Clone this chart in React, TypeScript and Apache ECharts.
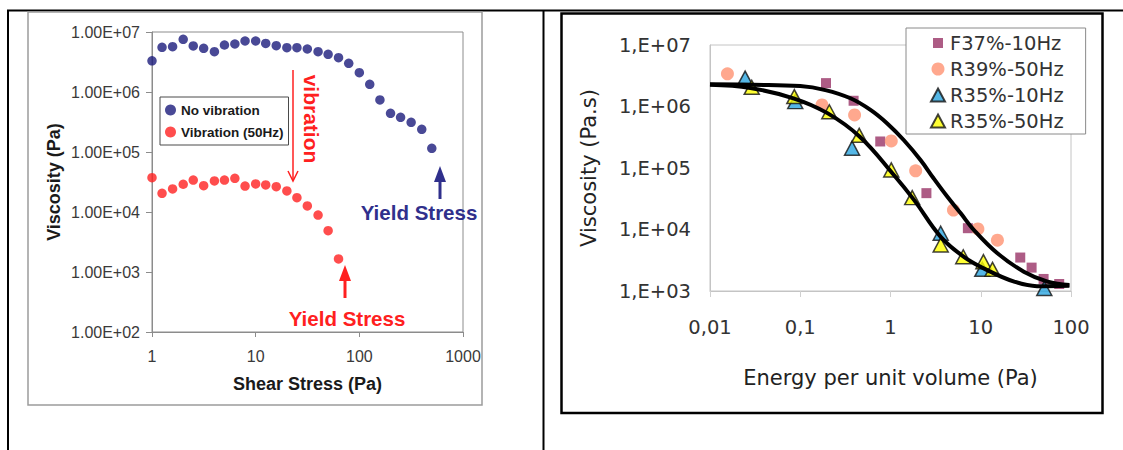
import React, { useEffect, useRef } from "react";
import * as echarts from "echarts";

// ---------- Left chart data ----------
const shearStress = [1, 1.25, 1.58, 2, 2.5, 3.15, 4, 5, 6.3, 7.9, 10, 12.5, 15.8, 20, 25, 31.5, 40, 50, 63, 79, 100, 126, 158, 200, 250, 316, 400, 500];
const viscNoVibration = [3.31e6, 5.56e6, 5.69e6, 7.55e6, 5.85e6, 5.35e6, 4.7e6, 6.07e6, 6.31e6, 7.08e6, 7.08e6, 6.46e6, 5.92e6, 5.47e6, 5.47e6, 5.21e6, 4.7e6, 4.25e6, 3.73e6, 3.01e6, 2.1e6, 1.34e6, 7.36e5, 4.42e5, 3.78e5, 3.13e5, 2.39e5, 1.15e5];
const shearStressVib = [1, 1.25, 1.58, 2, 2.5, 3.15, 4, 5, 6.3, 7.9, 10, 12.5, 15.8, 20, 25, 31.5, 40, 50, 63];
const viscVibration50 = [3.73e4, 2.05e4, 2.42e4, 2.9e4, 3.41e4, 2.74e4, 3.29e4, 3.41e4, 3.65e4, 2.71e4, 2.93e4, 2.82e4, 2.64e4, 2.24e4, 1.73e4, 1.26e4, 8.9e3, 4.88e3, 1.65e3];

// ---------- Right chart data ----------
const f37X = [0.193, 0.39, 0.77, 2.5, 7.2, 27.4, 36.6, 49.7, 74];
const f37Y = [2.4e6, 1.24e6, 2.7e5, 3.9e4, 1.05e4, 3.5e3, 2.4e3, 1.57e3, 1.3e3];
const r39X = [0.0156, 0.174, 0.4, 1.02, 1.9, 4.98, 9.3, 15.3];
const r39Y = [3.4e6, 1.06e6, 7.3e5, 2.75e5, 9e4, 2.07e4, 1.02e4, 6.7e3];
const r35a10X = [0.0245, 0.088, 0.375, 3.6, 10.4, 50.6];
const r35a10Y = [2.9e6, 1.2e6, 2.1e5, 8.7e3, 2.25e3, 1.1e3];
const r35a50X = [0.029, 0.086, 0.21, 0.45, 1.02, 1.74, 3.6, 6.4, 10.7, 13.5];
const r35a50Y = [2.05e6, 1.45e6, 8.2e5, 3.4e5, 9.3e4, 3.3e4, 5.6e3, 3.6e3, 3.0e3, 2.25e3];

const fitUpperX = [0.01, 0.03, 0.1, 0.19, 0.36, 0.6, 0.92, 1.4, 2.15, 3, 4.27, 6, 8.4, 15.3, 30, 55, 96];
const fitUpperY = [2.3e6, 2.25e6, 2.15e6, 1.85e6, 1.36e6, 8.8e5, 5.3e5, 2.85e5, 1.35e5, 6.8e4, 3.4e4, 1.83e4, 9.8e3, 4.1e3, 2.06e3, 1.42e3, 1.25e3];
const fitLowerX = [0.01, 0.028, 0.084, 0.2, 0.46, 1.09, 1.83, 3.6, 6.5, 11.7, 23.5, 42, 96];
const fitLowerY = [2.25e6, 2.0e6, 1.36e6, 7.8e5, 3.2e5, 7.7e4, 3.0e4, 7.6e3, 3.6e3, 2.2e3, 1.42e3, 1.2e3, 1.22e3];

const zip = (xs: number[], ys: number[]) => ys.map((y, i) => [xs[i], y]);

const ARIAL = '"Liberation Sans", Arial, sans-serif';
const DEJAVU = '"DejaVu Sans", Verdana, sans-serif';
const NAVY = "#1c1c7c";
const RED = "#ff2020";
const BLUE_TXT = "#30308c";

const expOf = (v: number) => Math.round(Math.log10(v));

export default function App() {
  const ref = useRef<HTMLDivElement>(null);

  useEffect(() => {
    if (!ref.current) return;
    const chart = echarts.init(ref.current, undefined, { renderer: "svg" });

    const textEl = (text: string, x: number, y: number, font: string, fill: string, rotation = 0) => ({
      type: "text",
      x,
      y,
      rotation,
      style: {
        text,
        font,
        fill,
        align: "center",
        verticalAlign: "middle",
        textAlign: "center",
        textVerticalAlign: "middle",
      },
    });

    const option: any = {
      animation: false,
      backgroundColor: "#ffffff",
      grid: [
        { left: 152, top: 32, width: 311, height: 300, show: true, borderColor: "#8c8c8c", borderWidth: 1, backgroundColor: "transparent" },
        { left: 710, top: 45, width: 361, height: 246, show: true, borderColor: "#c4c4c4", borderWidth: 1, backgroundColor: "transparent" },
      ],
      xAxis: [
        {
          gridIndex: 0,
          type: "log",
          logBase: 10,
          min: 1,
          max: 1000,
          axisLine: { lineStyle: { color: "#8c8c8c" } },
          axisTick: { show: true, inside: false, length: 5, lineStyle: { color: "#8c8c8c" } },
          minorTick: { show: false },
          splitLine: { show: false },
          axisLabel: {
            fontFamily: ARIAL,
            fontSize: 16,
            color: "#3a3a3a",
            margin: 16,
            formatter: (v: number) => String(Math.pow(10, expOf(v))),
          },
          name: "Shear Stress (Pa)",
          nameLocation: "middle",
          nameGap: 43,
          nameTextStyle: { fontFamily: ARIAL, fontWeight: "bold", fontSize: 18, color: "#1a1a1a" },
        },
        {
          gridIndex: 1,
          type: "log",
          logBase: 10,
          min: 0.01,
          max: 100,
          axisLine: { lineStyle: { color: "#c4c4c4" } },
          axisTick: { show: true, inside: false, length: 6, lineStyle: { color: "#d0d0d0" } },
          minorTick: { show: false },
          splitLine: { show: false },
          axisLabel: {
            fontFamily: DEJAVU,
            fontSize: 19.5,
            color: "#333",
            margin: 26,
            formatter: (v: number) => {
              const e = expOf(v);
              return e < 0 ? "0," + "0".repeat(-e - 1) + "1" : String(Math.pow(10, e));
            },
          },
          name: "Energy per unit volume (Pa)",
          nameLocation: "middle",
          nameGap: 76,
          nameTextStyle: { fontFamily: DEJAVU, fontSize: 21, color: "#222" },
        },
      ],
      yAxis: [
        {
          gridIndex: 0,
          type: "log",
          logBase: 10,
          min: 100,
          max: 1e7,
          axisLine: { show: true, lineStyle: { color: "#8c8c8c" } },
          axisTick: { show: true, inside: false, length: 6, lineStyle: { color: "#8c8c8c" } },
          minorTick: { show: false },
          splitLine: { show: false },
          axisLabel: {
            fontFamily: ARIAL,
            fontSize: 16,
            color: "#3a3a3a",
            margin: 12,
            formatter: (v: number) => "1.00E+0" + expOf(v),
          },
          name: "Viscosity (Pa)",
          nameLocation: "middle",
          nameGap: 89,
          nameTextStyle: { fontFamily: ARIAL, fontWeight: "bold", fontSize: 18, color: "#1a1a1a" },
        },
        {
          gridIndex: 1,
          type: "log",
          logBase: 10,
          min: 1000,
          max: 1e7,
          axisLine: { show: true, lineStyle: { color: "#c4c4c4" } },
          axisTick: { show: false },
          minorTick: { show: false },
          splitLine: { show: false },
          axisLabel: {
            fontFamily: DEJAVU,
            fontSize: 19.5,
            color: "#333",
            margin: 19,
            formatter: (v: number) => "1,E+0" + expOf(v),
          },
          name: "Viscosity (Pa.s)",
          nameLocation: "middle",
          nameGap: 111,
          nameTextStyle: { fontFamily: DEJAVU, fontSize: 21, color: "#222" },
        },
      ],
      legend: [
        {
          data: ["No vibration", "Vibration (50Hz)"],
          orient: "vertical",
          left: 160,
          top: 97,
          padding: [6, 5, 6, 5],
          itemGap: 8,
          itemWidth: 11,
          itemHeight: 11,
          icon: "circle",
          borderColor: "#4a4a4a",
          borderWidth: 1,
          backgroundColor: "#ffffff",
          selectedMode: false,
          textStyle: { fontFamily: ARIAL, fontWeight: "bold", fontSize: 13.5, color: "#1a1a1a", lineHeight: 13 },
        },
        {
          data: [
            { name: "F37%-10Hz", icon: "path://M0,0M14,13M2,1.5h10v10h-10z" },
            { name: "R39%-50Hz", icon: "circle" },
            { name: "R35%-10Hz", icon: "triangle" },
            { name: "R35%-50Hz", icon: "triangle" },
          ],
          orient: "vertical",
          left: 906,
          top: 28,
          padding: [5, 22, 3, 24],
          itemGap: 6,
          itemWidth: 14,
          itemHeight: 13,
          borderColor: "#8a8a8a",
          borderWidth: 1,
          backgroundColor: "#ffffff",
          selectedMode: false,
          textStyle: { fontFamily: DEJAVU, fontSize: 19.5, color: "#333", lineHeight: 20 },
        },
      ],
      series: [
        {
          name: "No vibration",
          type: "scatter",
          xAxisIndex: 0,
          yAxisIndex: 0,
          data: zip(shearStress, viscNoVibration),
          symbol: "circle",
          symbolSize: 9.5,
          itemStyle: { color: NAVY },
        },
        {
          name: "Vibration (50Hz)",
          type: "scatter",
          xAxisIndex: 0,
          yAxisIndex: 0,
          data: zip(shearStressVib, viscVibration50),
          symbol: "circle",
          symbolSize: 9.5,
          itemStyle: { color: RED },
        },
        {
          name: "fitUpper",
          type: "line",
          xAxisIndex: 1,
          yAxisIndex: 1,
          data: zip(fitUpperX, fitUpperY),
          smooth: 0.4,
          symbol: "none",
          silent: true,
          lineStyle: { color: "#000", width: 4 },
        },
        {
          name: "fitLower",
          type: "line",
          xAxisIndex: 1,
          yAxisIndex: 1,
          data: zip(fitLowerX, fitLowerY),
          smooth: 0.4,
          symbol: "none",
          silent: true,
          lineStyle: { color: "#000", width: 4 },
        },
        {
          name: "F37%-10Hz",
          type: "scatter",
          xAxisIndex: 1,
          yAxisIndex: 1,
          data: zip(f37X, f37Y),
          symbol: "rect",
          symbolSize: 10,
          itemStyle: { color: "#993366" },
        },
        {
          name: "R39%-50Hz",
          type: "scatter",
          xAxisIndex: 1,
          yAxisIndex: 1,
          data: zip(r39X, r39Y),
          symbol: "circle",
          symbolSize: 13,
          itemStyle: { color: "#ff9272" },
        },
        {
          name: "R35%-10Hz",
          type: "scatter",
          xAxisIndex: 1,
          yAxisIndex: 1,
          data: zip(r35a10X, r35a10Y),
          symbol: "triangle",
          symbolSize: [15, 14],
          itemStyle: { color: "#2aa5e0", borderColor: "#111", borderWidth: 1.5 },
        },
        {
          name: "R35%-50Hz",
          type: "scatter",
          xAxisIndex: 1,
          yAxisIndex: 1,
          data: zip(r35a50X, r35a50Y),
          symbol: "triangle",
          symbolSize: [15, 14],
          itemStyle: { color: "#ffff00", borderColor: "#111", borderWidth: 1.5 },
        },
      ],
      graphic: [
        // table borders
        { type: "line", shape: { x1: 7, y1: 10.5, x2: 1123, y2: 10.5 }, style: { stroke: "#000", lineWidth: 2 } },
        { type: "line", shape: { x1: 8, y1: 10, x2: 8, y2: 450 }, style: { stroke: "#000", lineWidth: 2 } },
        { type: "line", shape: { x1: 543.5, y1: 10, x2: 543.5, y2: 450 }, style: { stroke: "#000", lineWidth: 2 } },
        // chart frames
        { type: "rect", shape: { x: 28, y: 12, width: 454, height: 393 }, style: { fill: "transparent", stroke: "#9c9c9c", lineWidth: 1.5 } },
        { type: "rect", shape: { x: 561.5, y: 13.5, width: 541, height: 399.5 }, style: { fill: "transparent", stroke: "#000", lineWidth: 2.5 } },
        // vibration annotation
        textEl("vibration", 311, 119, `bold 21px ${ARIAL}`, RED, -Math.PI / 2),
        { type: "line", shape: { x1: 293, y1: 70, x2: 293, y2: 180 }, style: { stroke: RED, lineWidth: 1.5 } },
        { type: "polyline", shape: { points: [[288, 171], [293, 181], [298, 171]] }, style: { stroke: RED, lineWidth: 1.5, fill: "transparent" } },
        // blue yield stress arrow
        { type: "line", shape: { x1: 440, y1: 180, x2: 440, y2: 199 }, style: { stroke: BLUE_TXT, lineWidth: 3 } },
        { type: "polygon", shape: { points: [[434, 182], [440, 166], [446, 182]] }, style: { fill: BLUE_TXT } },
        textEl("Yield Stress", 419, 212, `bold 20.5px ${ARIAL}`, BLUE_TXT),
        // red yield stress arrow
        { type: "line", shape: { x1: 345, y1: 279, x2: 345, y2: 298 }, style: { stroke: RED, lineWidth: 3 } },
        { type: "polygon", shape: { points: [[339, 281], [345, 265], [351, 281]] }, style: { fill: RED } },
        textEl("Yield Stress", 347, 318.5, `bold 20.5px ${ARIAL}`, RED),
      ],
    };

    chart.setOption(option);
    return () => chart.dispose();
  }, []);

  return (
    <div
      ref={ref}
      style={{ position: "fixed", left: 0, top: 0, width: 1123, height: 450, background: "#fff" }}
    />
  );
}
